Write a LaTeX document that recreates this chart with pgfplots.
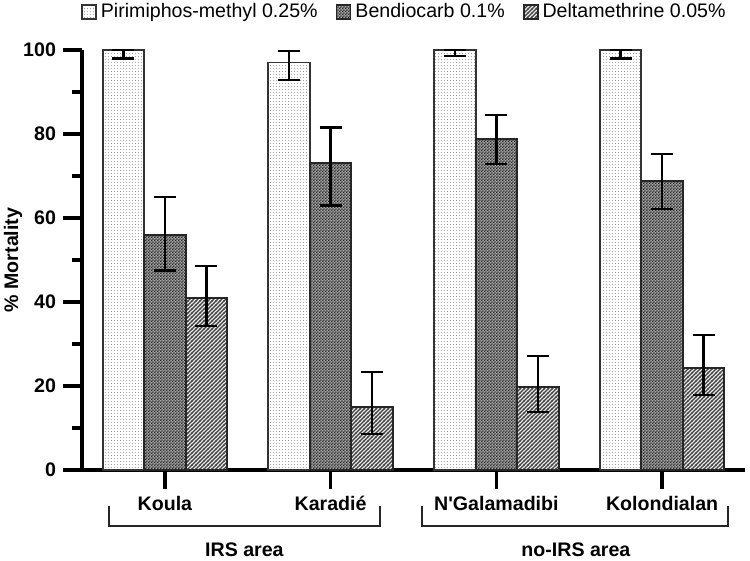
\documentclass[border=0pt]{standalone}
\usepackage{pgfplots}
\pgfplotsset{compat=1.18}
\usepackage{fontspec}
\setmainfont{Liberation Sans}[Ligatures=TeXOff]
\usetikzlibrary{patterns}

\pgfdeclarepatternformonly{finedots}{\pgfpointorigin}{\pgfpoint{1.5pt}{1.5pt}}{\pgfpoint{1.5pt}{1.5pt}}{%
  \pgfpathrectangle{\pgfpointorigin}{\pgfpoint{0.6pt}{0.6pt}}\pgfusepath{fill}}
\pgfdeclarepatternformonly{finechecker}{\pgfpointorigin}{\pgfpoint{1.4pt}{1.4pt}}{\pgfpoint{1.4pt}{1.4pt}}{%
  \pgfpathrectangle{\pgfpointorigin}{\pgfpoint{0.7pt}{0.7pt}}%
  \pgfpathrectangle{\pgfpoint{0.7pt}{0.7pt}}{\pgfpoint{0.7pt}{0.7pt}}\pgfusepath{fill}}
\pgfdeclarepatternformonly{finediag}{\pgfpoint{-0.5pt}{-0.5pt}}{\pgfpoint{2.5pt}{2.5pt}}{\pgfpoint{2pt}{2pt}}{%
  \pgfsetlinewidth{0.6pt}%
  \pgfpathmoveto{\pgfpoint{-0.2pt}{-0.2pt}}\pgfpathlineto{\pgfpoint{2.2pt}{2.2pt}}\pgfusepath{stroke}}

\begin{document}
\begin{tikzpicture}
\begin{axis}[
  scale only axis,
  width=331.5pt, height=210pt,
  ymin=0, ymax=100, xmin=-0.5, xmax=3.5,
  axis x line*=bottom, axis y line*=left,
  axis line style={-, line width=1.8pt, black},
  ytick={0,20,...,100}, minor ytick={10,30,...,90},
  xtick={0,1,2,3},
  xticklabels={Koula, Karadié, N'Galamadibi, Kolondialan},
  tick align=outside,
  major tick length=9.5pt, minor tick length=5pt,
  every tick/.style={line width=1.8pt, black},
  ticklabel style={font=\bfseries\fontsize{9.8}{11}\selectfont},
  /pgf/number format/assume math mode=true,
  ylabel={\% Mortality},
  ylabel style={at={(axis description cs:-0.104,0.5)}, anchor=center,
    font=\bfseries\fontsize{9.8}{11}\selectfont},
  ybar=0pt, bar width=20.75pt,
  clip=false,
  legend columns=-1,
  legend style={at={(1,1)}, anchor=east, xshift=-7.5pt, yshift=19pt,
    draw=none, fill=none, inner sep=0pt,
    font=\fontsize{9.8}{11}\selectfont,
    /tikz/every even column/.append style={column sep=7pt}},
  legend image code/.code={\draw[#1] (0pt,-3.5pt) rectangle (7pt,3.5pt);},
  error bars/y dir=both, error bars/y explicit,
  error bars/error bar style={line width=1.2pt, black},
  error bars/error mark options={rotate=90, mark size=5.5pt, line width=1.2pt, black},
]
\addplot[draw=black!80, line width=0.9pt, fill=white,
  postaction={pattern=finedots, pattern color=black!35}]
  coordinates {(0,100) += (0,0) -= (0,2)
               (1,97) += (0,2.8) -= (0,4.1)
               (2,100) += (0,0) -= (0,1.5)
               (3,100) += (0,0) -= (0,2)};
\addplot[draw=black!85, line width=0.9pt, fill=black!35,
  postaction={pattern=finechecker, pattern color=black!85}]
  coordinates {(0,56) += (0,9) -= (0,8.5)
               (1,73) += (0,8.5) -= (0,10)
               (2,78.8) += (0,5.7) -= (0,5.9)
               (3,68.8) += (0,6.5) -= (0,6.7)};
\addplot[draw=black!85, line width=0.9pt, fill=black!8,
  postaction={pattern=finediag, pattern color=black!75}]
  coordinates {(0,41) += (0,7.6) -= (0,6.7)
               (1,15) += (0,8.3) -= (0,6.4)
               (2,19.8) += (0,7.3) -= (0,6)
               (3,24.3) += (0,7.9) -= (0,6.4)};
\legend{Pirimiphos-methyl 0.25\%, Bendiocarb 0.1\%, Deltamethrine 0.05\%}

\draw[line width=1pt, black!85]
  ([yshift=-18pt]axis cs:-0.34,0) -- ([yshift=-28pt]axis cs:-0.34,0)
  -- ([yshift=-28pt]axis cs:1.295,0) -- ([yshift=-18pt]axis cs:1.295,0);
\draw[line width=1pt, black!85]
  ([yshift=-18pt]axis cs:1.55,0) -- ([yshift=-28pt]axis cs:1.55,0)
  -- ([yshift=-28pt]axis cs:3.40,0) -- ([yshift=-18pt]axis cs:3.40,0);
\node[font=\bfseries\fontsize{9.8}{11}\selectfont] at ([yshift=-40pt]axis cs:0.48,0) {IRS area};
\node[font=\bfseries\fontsize{9.8}{11}\selectfont] at ([yshift=-40pt]axis cs:2.48,0) {no-IRS area};
\end{axis}
\pgfresetboundingbox
\path[use as bounding box] (-41pt,-45.5pt) rectangle (334pt,235pt);
\end{tikzpicture}
\end{document}
